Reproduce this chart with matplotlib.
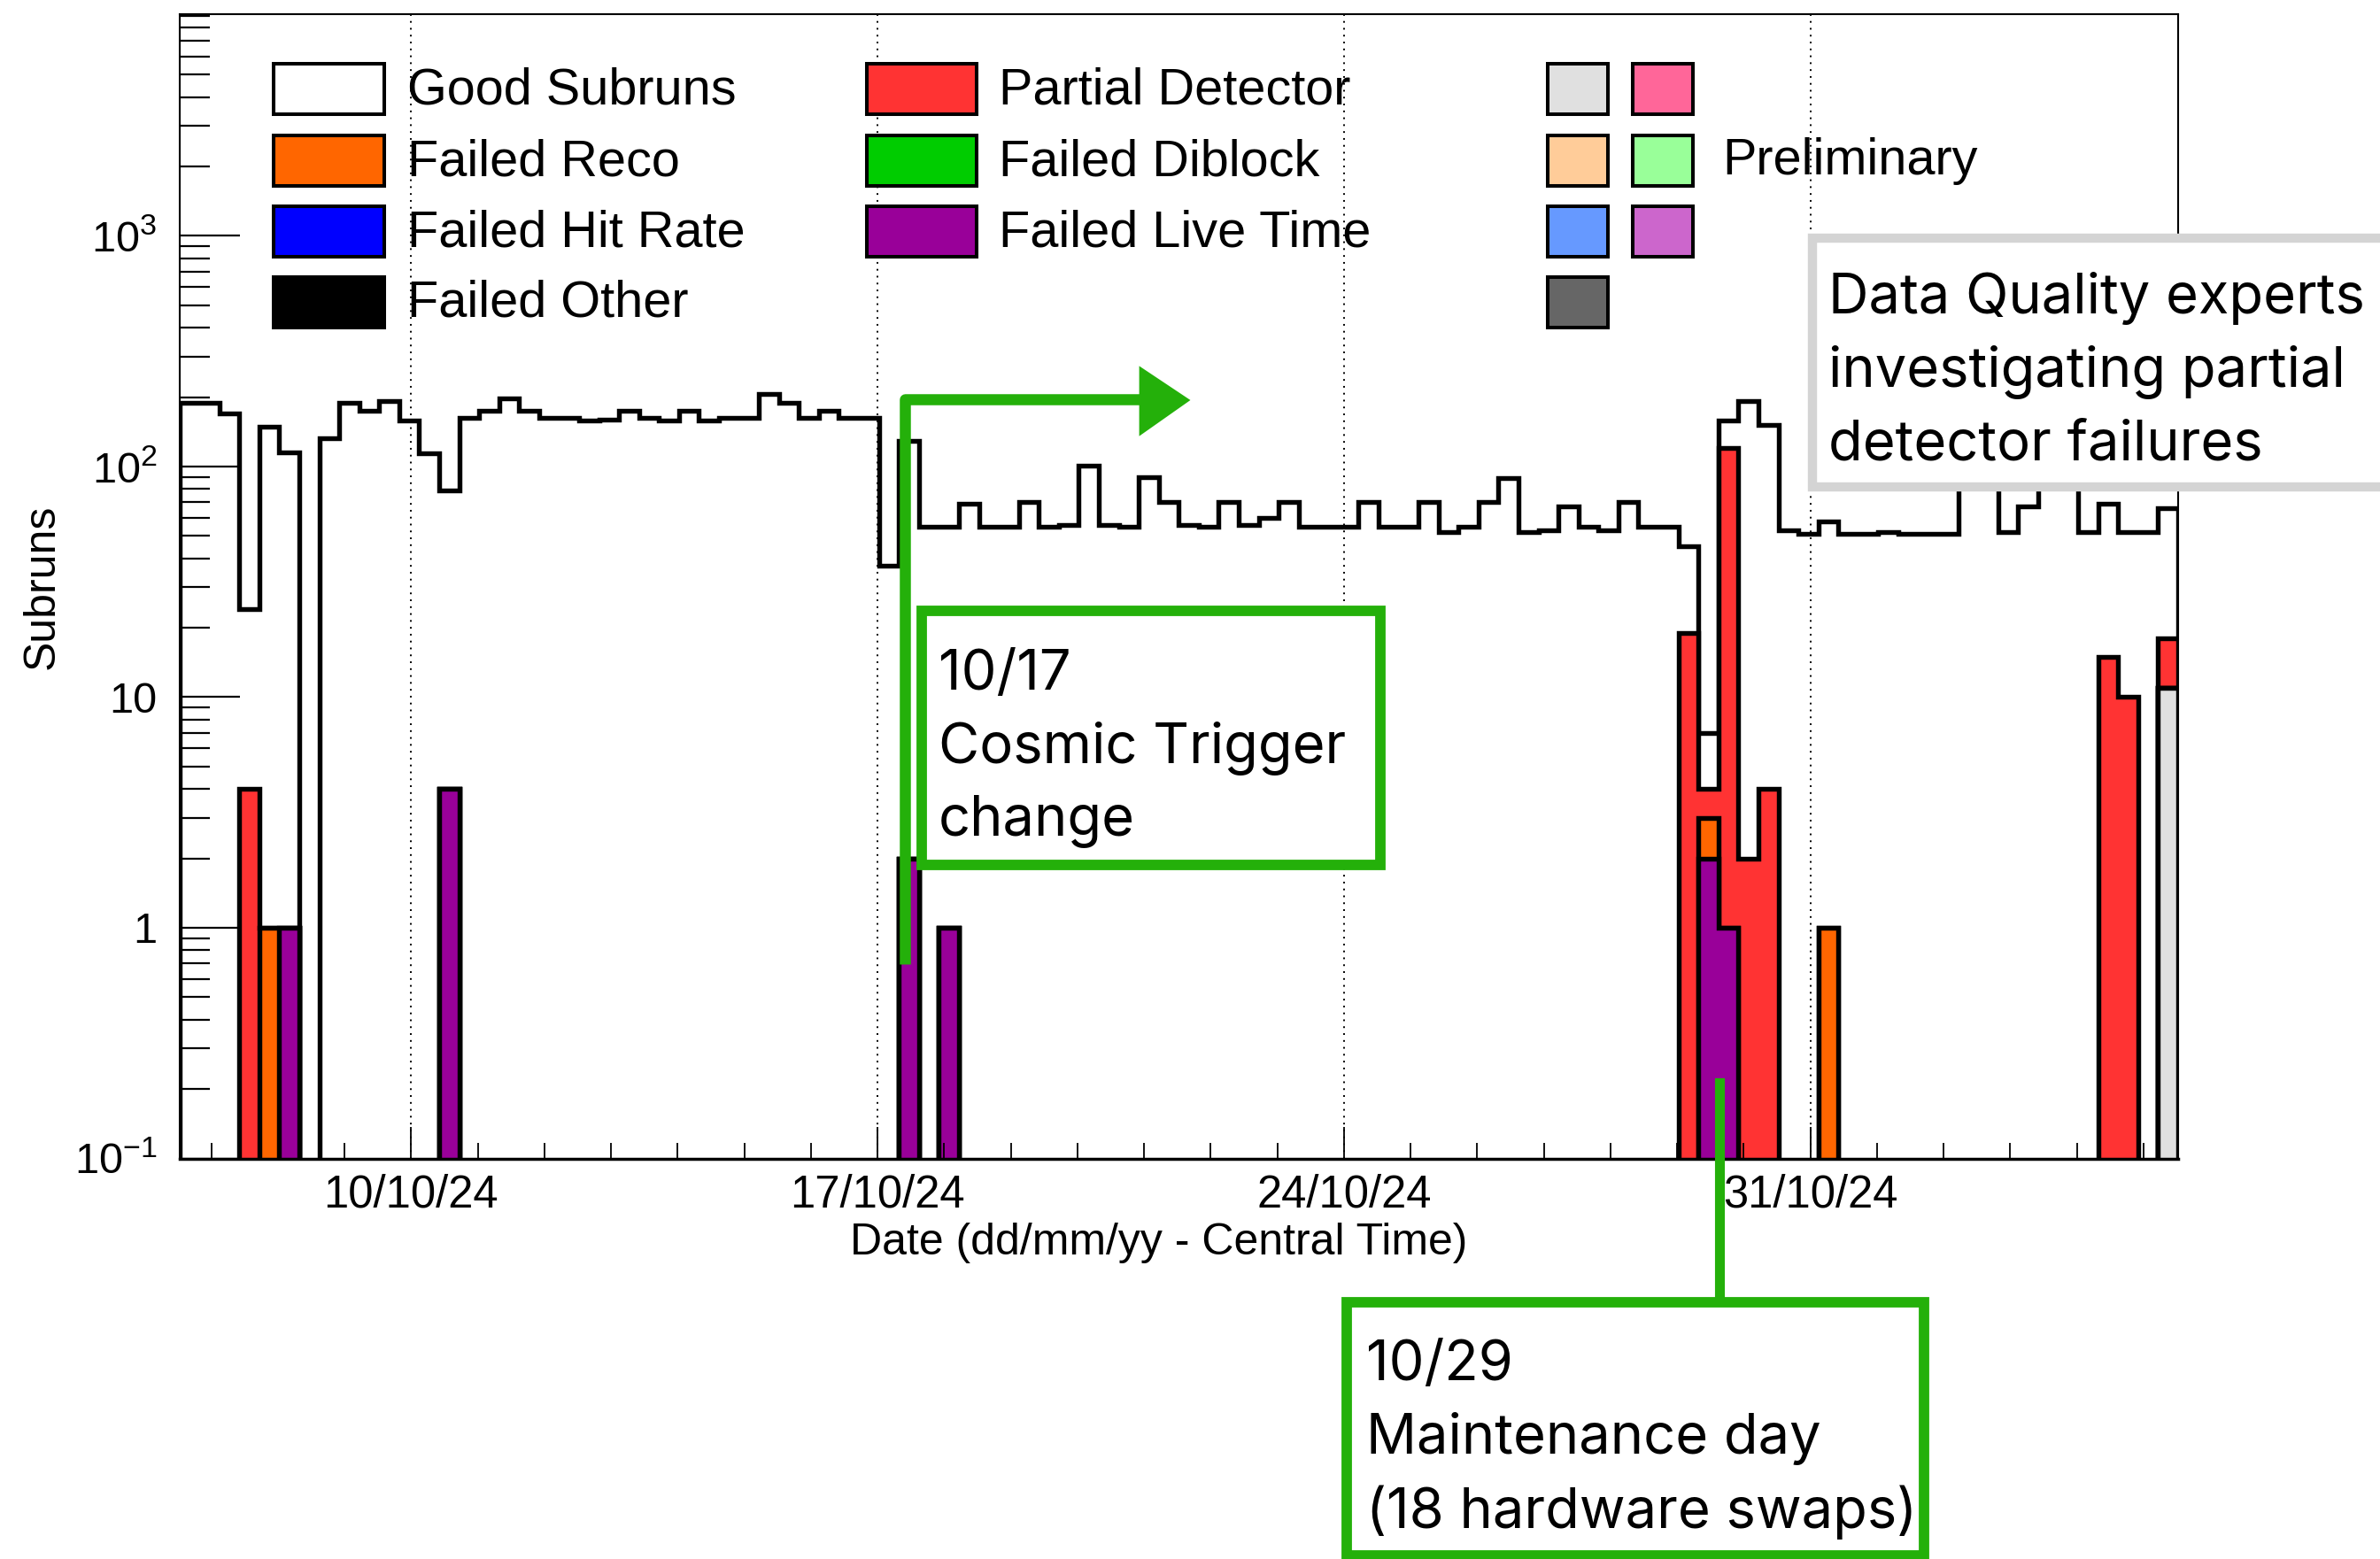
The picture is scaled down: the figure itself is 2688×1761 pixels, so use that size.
import numpy as np
import pandas as pd
import matplotlib
matplotlib.use("Agg")
import matplotlib.pyplot as plt
import matplotlib.dates as mdates
from matplotlib.patches import Rectangle, Polygon
from matplotlib.lines import Line2D
from matplotlib.ticker import FixedLocator, FixedFormatter, LogLocator, NullFormatter

plt.rcParams['font.family'] = ['Liberation Sans', 'DejaVu Sans']
plt.rcParams['mathtext.fontset'] = 'custom'
plt.rcParams['mathtext.rm'] = 'Liberation Sans'
plt.rcParams['mathtext.it'] = 'Liberation Sans:italic'
plt.rcParams['mathtext.bf'] = 'Liberation Sans:bold'

# ---------------- data ----------------
bin_start = "2024-10-06 12:29"
bin_width = "432min"          # 0.3 day bins
n_bins = 100

good_subruns = [
    189, 189, 170, 20, 148, 114, 0, 133, 189, 175,
    193, 158, 114, 75, 163, 175, 197, 175, 163, 163,
    158, 160, 175, 163, 158, 175, 158, 163, 163, 206,
    189, 163, 175, 163, 163, 37, 127, 55, 54, 69,
    55, 55, 70, 55, 56, 101, 56, 55, 90, 70,
    56, 55, 70, 56, 60, 70, 55, 55, 55, 70,
    55, 55, 70, 52, 55, 70, 89, 52, 53, 67,
    55, 53, 70, 55, 55, 26, 3, 38, 190, 147,
    53, 51, 57, 51, 51, 52, 51, 51, 51, 85,
    85, 52, 67, 82, 82, 52, 54, 42, 52, 48,
]
partial_detector_bins = [3, 75, 76, 77, 78, 79, 96, 97, 99]
partial_detector_counts = [4, 19, 1, 119, 2, 4, 15, 10, 7]
failed_reco_bins = [4, 76, 82]
failed_reco_counts = [1, 1, 1]
failed_live_time_bins = [5, 13, 36, 38, 76, 77]
failed_live_time_counts = [1, 4, 2, 1, 2, 1]
failed_hit_rate_bins, failed_hit_rate_counts = [], []
failed_diblock_bins, failed_diblock_counts = [], []
failed_other_bins, failed_other_counts = [], []
preliminary_bins = [99]
preliminary_counts = [11]

date_ticks = ["2024-10-10", "2024-10-17", "2024-10-24", "2024-10-31"]
date_tick_labels = ["10/10/24", "17/10/24", "24/10/24", "31/10/24"]
y_ticks = [0.1, 1, 10, 100, 1000]
y_tick_labels = [r"$10^{-1}$", "1", "10", r"$10^{2}$", r"$10^{3}$"]

legend_col1 = ["Good Subruns", "Failed Reco", "Failed Hit Rate", "Failed Other"]
legend_col2 = ["Partial Detector", "Failed Diblock", "Failed Live Time"]
prelim_colors = ["#e0e0e0", "#ff6699", "#ffcc99", "#99ff99", "#6699ff", "#cc66cc", "#666666"]

colors = {
    "Good Subruns": "#ffffff", "Failed Reco": "#ff6600", "Failed Hit Rate": "#0000ff",
    "Failed Other": "#000000", "Partial Detector": "#ff3333", "Failed Diblock": "#00cc00",
    "Failed Live Time": "#990099", "Preliminary": "#e0e0e0",
}

# ---------------- figure ----------------
W, H = 2688, 1761
fig = plt.figure(figsize=(W / 100, H / 100), dpi=100)
ax = fig.add_axes([202.5 / W, 1 - 1308.5 / H, (2460 - 202.5) / W, (1308.5 - 16) / H])


def expand(bins, counts):
    a = np.zeros(n_bins)
    a[np.asarray(bins, dtype=int)] = counts
    return a


edges = mdates.date2num(pd.date_range(bin_start, periods=n_bins + 1, freq=bin_width).to_pydatetime())

layers = [
    ("Preliminary", expand(preliminary_bins, preliminary_counts)),
    ("Failed Live Time", expand(failed_live_time_bins, failed_live_time_counts)),
    ("Failed Reco", expand(failed_reco_bins, failed_reco_counts)),
    ("Partial Detector", expand(partial_detector_bins, partial_detector_counts)),
    ("Failed Hit Rate", expand(failed_hit_rate_bins, failed_hit_rate_counts)),
    ("Failed Diblock", expand(failed_diblock_bins, failed_diblock_counts)),
    ("Failed Other", expand(failed_other_bins, failed_other_counts)),
    ("Good Subruns", np.asarray(good_subruns, dtype=float)),
]
cum = np.cumsum([l[1] for l in layers], axis=0)
floor = 1e-3
nl = len(layers)
for k in reversed(range(nl)):
    name = layers[k][0]
    v = cum[k]
    if v.max() == 0 or (k > 0 and np.allclose(layers[k][1], 0)):
        continue
    vp = np.where(v > 0, v, floor)
    ax.stairs(vp, edges, baseline=floor, fill=True, facecolor=colors[name],
              edgecolor="black", linewidth=3.9, zorder=1 + 0.01 * (nl - k))

ax.set_yscale("log")
ax.set_ylim(0.1, 9150)
ax.set_xlim(edges[0], edges[-1])

ax.set_yticks(y_ticks)
ax.set_yticklabels(y_tick_labels)
ax.yaxis.set_minor_locator(LogLocator(base=10, subs=np.arange(2, 10)))
ax.yaxis.set_minor_formatter(NullFormatter())

ax.xaxis.set_major_locator(FixedLocator(mdates.date2num(pd.to_datetime(date_ticks).to_pydatetime())))
ax.xaxis.set_major_formatter(FixedFormatter(date_tick_labels))
ax.xaxis.set_minor_locator(mdates.DayLocator())

ax.tick_params(axis="y", which="major", direction="in", length=49, width=1.6, pad=18, labelsize=35, right=False)
ax.tick_params(axis="y", which="minor", direction="in", length=24.5, width=1.6, right=False)
ax.tick_params(axis="x", which="major", direction="in", length=26, width=1.3, pad=12, labelsize=36.5, top=False)
ax.tick_params(axis="x", which="minor", direction="in", length=13, width=1.3, top=False)

ax.set_axisbelow(False)
ax.xaxis.grid(True, which="major", linestyle=(0, (1, 3)), color="black", linewidth=1.4)
for s in ["top", "right", "left"]:
    ax.spines[s].set_linewidth(1.5)
ax.spines["bottom"].set_linewidth(2.5)


# ---------------- helpers in pixel space ----------------
def frect(x0, y0, x1, y1, **kw):
    r = Rectangle((x0 / W, 1 - y1 / H), (x1 - x0) / W, (y1 - y0) / H, transform=fig.transFigure, **kw)
    fig.add_artist(r)
    return r


def fline(xs, ys, **kw):
    l = Line2D([x / W for x in xs], [1 - y / H for y in ys], transform=fig.transFigure, **kw)
    fig.add_artist(l)
    return l


def ftext(x, y, s, **kw):
    return fig.text(x / W, 1 - y / H, s, **kw)


# axis titles
ftext(48, 663, "Subruns", rotation=90, ha="center", va="center", fontsize=36)
ftext(1309, 1404, "Date (dd/mm/yy - Central Time)", ha="center", va="center", fontsize=36)

# ---------------- legend ----------------
row_tops = [72, 153, 233, 313]
row_base = [117, 198.5, 278.5, 358]
box_h = 57
for i, lab in enumerate(legend_col1):
    frect(309, row_tops[i], 434, row_tops[i] + box_h, facecolor=colors[lab], edgecolor="black",
          linewidth=2.9, zorder=5)
    ftext(460, row_base[i], lab, ha="left", va="baseline", fontsize=41.5, zorder=5)
for i, lab in enumerate(legend_col2):
    frect(979, row_tops[i], 1103, row_tops[i] + box_h, facecolor=colors[lab], edgecolor="black",
          linewidth=2.9, zorder=5)
    ftext(1128, row_base[i], lab, ha="left", va="baseline", fontsize=41.5, zorder=5)
for i, c in enumerate(prelim_colors):
    r, col = divmod(i, 2)
    x0 = 1748 if col == 0 else 1844
    frect(x0, row_tops[r], x0 + 68, row_tops[r] + box_h, facecolor=c, edgecolor="black",
          linewidth=2.9, zorder=5)
ftext(1945, 197, "Preliminary", ha="left", va="baseline", fontsize=41.5, zorder=5)

# ---------------- annotations ----------------
green = "#24b00a"
afont = dict(family=["Inter", "DejaVu Sans"], fontsize=45.5, ha="left", va="baseline", zorder=21)

# cosmic trigger change
fline([1022, 1022, 1300], [1089, 451, 451], color=green, linewidth=9, solid_capstyle="butt", zorder=20)
fig.add_artist(Polygon([[1288 / W, 1 - 416 / H], [1342 / W, 1 - 452 / H], [1288 / W, 1 - 490 / H]],
                       closed=True, transform=fig.transFigure, facecolor=green, edgecolor=green,
                       linewidth=2, zorder=20))
frect(1041, 690, 1559, 977, facecolor="white", edgecolor=green, linewidth=8.5, zorder=20)
for s, yb in zip(["10/17", "Cosmic Trigger", "change"], [779, 861, 943]):
    ftext(1060, yb, s, **afont)

# maintenance day
fline([1942, 1942], [1223, 1471], color=green, linewidth=8, zorder=20)
frect(1521, 1471, 2173, 1757, facecolor="white", edgecolor=green, linewidth=8.5, zorder=20)
for s, yb in zip(["10/29", "Maintenance day", "(18 hardware swaps)"], [1559, 1642, 1726]):
    ftext(1543, yb, s, **afont)

# data quality experts
frect(2047, 269, 2760, 550, facecolor="white", edgecolor="#d4d4d4", linewidth=7.5, zorder=20)
for s, yb in zip(["Data Quality experts", "investigating partial", "detector failures"], [354, 436, 519]):
    ftext(2065, yb, s, **afont)

fig.savefig("out.png", dpi=100)
